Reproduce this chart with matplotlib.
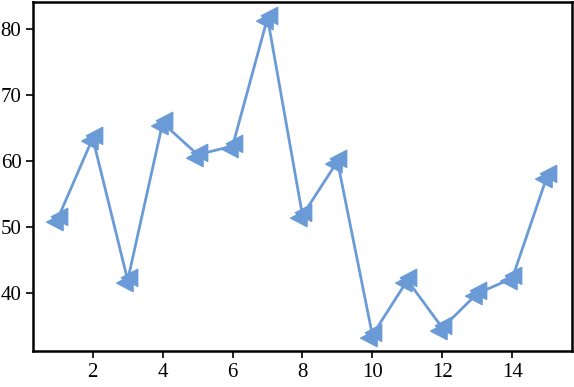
import numpy as np
import matplotlib.pyplot as plt
from matplotlib.path import Path

plt.rcParams['font.family'] = ['Liberation Serif', 'DejaVu Serif']

x = [1, 2, 3, 4, 5, 6, 7, 8, 9, 10, 11, 12, 13, 14, 15]
y = [51.3, 63.5, 42.0, 65.8, 61.0, 62.3, 81.7, 51.8, 60.0, 33.7, 42.0, 34.8, 40.0, 42.3, 57.8]
xticks = [2, 4, 6, 8, 10, 12, 14]
yticks = [40, 50, 60, 70, 80]

# two overlapping left-pointing triangles, looks like the reference marker
verts = [(-0.55, 0.2), (0.7, 0.85), (0.7, -0.45), (-0.55, 0.2),
         (-0.9, -0.2), (0.35, 0.45), (0.35, -0.85), (-0.9, -0.2)]
codes = [Path.MOVETO, Path.LINETO, Path.LINETO, Path.CLOSEPOLY] * 2
mk = Path(verts, codes)

color = '#6a9bd6'

fig = plt.figure(figsize=(5.74, 3.87), dpi=100)
ax = fig.add_axes([0.058, 0.093, 0.938, 0.902])
ax.plot(x, y, color=color, linewidth=2, marker=mk, markersize=17,
        markerfacecolor=color, markeredgecolor=color)

ax.set_xticks(xticks)
ax.set_yticks(yticks)
ax.tick_params(direction='out', length=5, width=1.2, labelsize=15, colors='black')
for s in ax.spines.values():
    s.set_linewidth(1.8)

fig.savefig('out.png', dpi=100)
